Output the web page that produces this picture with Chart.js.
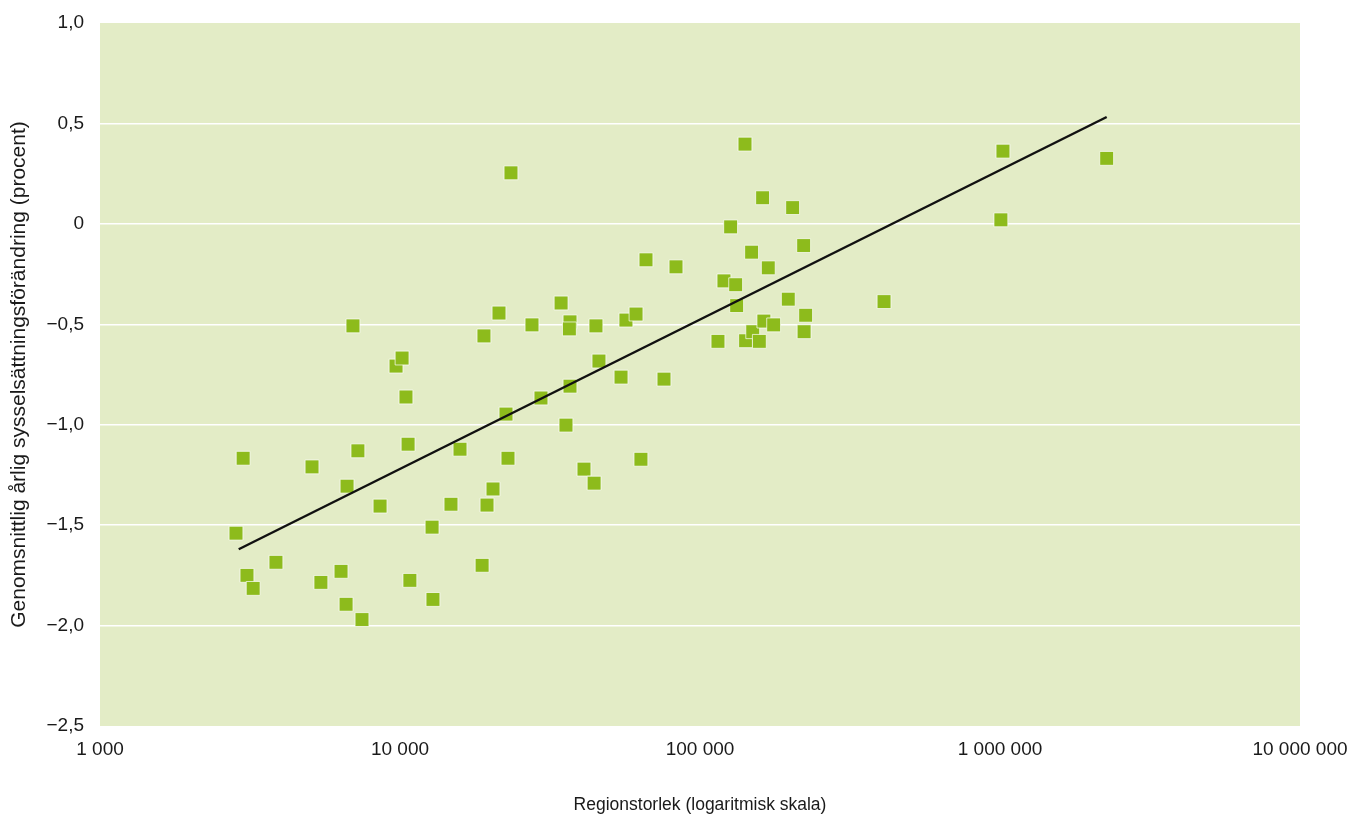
<!DOCTYPE html>
<html>
<head>
<meta charset="utf-8">
<script src="https://cdn.jsdelivr.net/npm/chart.js@4/dist/chart.umd.min.js"></script>
<style>
  html, body { margin: 0; padding: 0; background: #ffffff; }
  #wrap { width: 1355px; height: 816px; }
</style>
</head>
<body>
<div id="wrap"><canvas id="c" width="1355" height="816"></canvas></div>
<script>
// Region size (population) and average annual employment change (percent)
const regionSize = [
  2840, 3000, 3090, 3240, 3860, 5090, 5450, 6360, 6660, 6610,
  6970, 7240, 7470, 8580, 9700, 10160, 10470, 10640, 10790, 12790,
  12880, 14790, 15850, 18780, 19050, 19500, 20420, 21380, 22560, 22910,
  23440, 27540, 29510, 34430, 35750, 36870, 36700, 36870, 41050, 44360,
  45000, 46050, 54550, 56650, 61200, 63560, 66070, 75860, 83180, 114800,
  120200, 126500, 131500, 132500, 141250, 141900, 148600, 149900, 157700, 161700,
  163300, 168900, 176000, 196900, 203600, 221600, 222300, 225000, 410600, 1007000,
  1023000, 2268000
];
const employmentChange = [
  -1.54, -1.167, -1.75, -1.815, -1.685, -1.21, -1.785, -1.73, -1.306, -1.894,
  -0.508, -1.13, -1.97, -1.405, -0.708, -0.668, -0.862, -1.097, -1.775, -1.51,
  -1.87, -1.396, -1.122, -1.70, -0.558, -1.40, -1.32, -0.444, -0.947, -1.167,
  0.254, -0.503, -0.867, -0.394, -1.002, -0.488, -0.523, -0.808, -1.221, -1.291,
  -0.508, -0.683, -0.763, -0.479, -0.449, -1.172, -0.179, -0.773, -0.214, -0.585,
  -0.284, -0.015, -0.303, -0.407, 0.397, -0.582, -0.141, -0.537, -0.585, 0.130,
  -0.484, -0.219, -0.503, -0.375, 0.081, -0.108, -0.537, -0.455, -0.387, 0.020,
  0.362, 0.326
];
// Trend line end points
const trendX = [2900, 2268000];
const trendY = [-1.62, 0.532];

// Tick values and labels
const xTickValues = [1000, 10000, 100000, 1000000, 10000000];
const xTickLabels = ['1 000', '10 000', '100 000', '1 000 000', '10 000 000'];
const yTickValues = [-2.5, -2.0, -1.5, -1.0, -0.5, 0, 0.5, 1.0];
const yTickLabels = ['\u22122,5', '\u22122,0', '\u22121,5', '\u22121,0', '\u22120,5', '0', '0,5', '1,0'];

const xTitle = 'Regionstorlek (logaritmisk skala)';
const yTitle = 'Genomsnittlig årlig sysselsättningsförändring (procent)';

const scatterPoints = regionSize.map((x, i) => ({ x: x, y: employmentChange[i] }));
const trendPoints = trendX.map((x, i) => ({ x: x, y: trendY[i] }));

const plotBg = {
  id: 'plotBg',
  beforeDraw(chart) {
    const a = chart.chartArea, ctx = chart.ctx;
    ctx.save();
    ctx.fillStyle = '#e3ecc6';
    ctx.fillRect(a.left, a.top, a.right - a.left, a.bottom - a.top);
    ctx.restore();
  }
};

const FONT = "'Liberation Sans', Arial, sans-serif";

new Chart(document.getElementById('c'), {
  type: 'scatter',
  data: {
    datasets: [
      {
        label: 'Trend',
        type: 'line',
        data: trendPoints,
        borderColor: '#111111',
        borderWidth: 2.5,
        pointRadius: 0,
        fill: false,
        order: 0
      },
      {
        label: 'Regioner',
        data: scatterPoints,
        pointStyle: 'rect',
        pointRadius: 9.8,
        pointHoverRadius: 9.8,
        backgroundColor: '#8dbb1c',
        borderColor: 'rgba(255,255,255,0.7)',
        borderWidth: 1,
        order: 1
      }
    ]
  },
  plugins: [plotBg],
  options: {
    responsive: false,
    animation: false,
    devicePixelRatio: 1,
    layout: { padding: { left: 0, right: 55, top: 23, bottom: 0 } },
    plugins: {
      legend: { display: false },
      tooltip: { enabled: false }
    },
    scales: {
      x: {
        type: 'logarithmic',
        min: 1000,
        max: 10000000,
        grid: { display: false, drawTicks: false },
        border: { display: false },
        afterBuildTicks(scale) {
          scale.ticks = xTickValues.map(v => ({ value: v }));
        },
        ticks: {
          autoSkip: false,
          maxRotation: 0,
          padding: 12,
          color: '#1a1a1a',
          font: { family: FONT, size: 19 },
          callback(value) {
            const i = xTickValues.indexOf(value);
            return i >= 0 ? xTickLabels[i] : '';
          }
        },
        title: {
          display: true,
          text: xTitle,
          color: '#1a1a1a',
          font: { family: FONT, size: 17.5 },
          padding: { top: 0, bottom: 0 }
        },
        afterFit(scale) {
          scale.height = 90;
          scale.paddingLeft = 0;
          scale.paddingRight = 0;
        }
      },
      y: {
        min: -2.5,
        max: 1.0,
        grid: {
          drawTicks: false,
          lineWidth: 1.5,
          color(ctx) {
            const v = ctx.tick ? ctx.tick.value : null;
            return (v === -2.5 || v === 1.0) ? 'rgba(0,0,0,0)' : '#ffffff';
          }
        },
        border: { display: false },
        afterBuildTicks(scale) {
          scale.ticks = yTickValues.map(v => ({ value: v }));
        },
        ticks: {
          padding: 16,
          color: '#1a1a1a',
          font: { family: FONT, size: 19 },
          callback(value) {
            const i = yTickValues.findIndex(v => Math.abs(v - value) < 1e-9);
            return i >= 0 ? yTickLabels[i] : '';
          }
        },
        title: {
          display: true,
          text: yTitle,
          color: '#1a1a1a',
          font: { family: FONT, size: 21 },
          padding: { top: 7, bottom: 0 }
        },
        afterFit(scale) {
          scale.width = 100;
          scale.paddingTop = 0;
          scale.paddingBottom = 0;
        }
      }
    }
  }
});
</script>
</body>
</html>
